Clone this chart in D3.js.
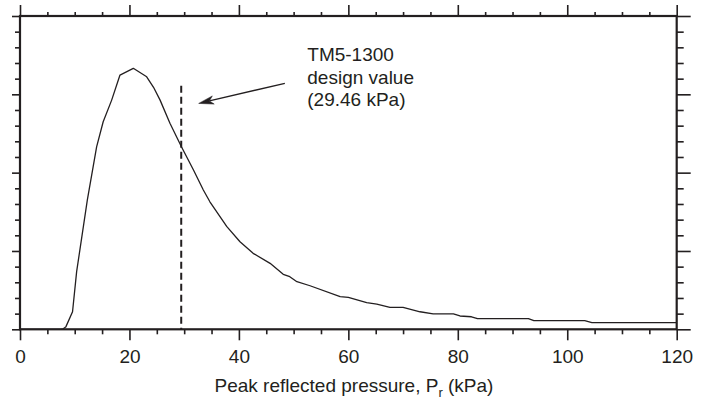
<!DOCTYPE html>
<html>
<head>
<meta charset="utf-8">
<script src="https://cdn.jsdelivr.net/npm/d3@7"></script>
<style>
  html, body { margin: 0; padding: 0; background: #fff; }
  svg { display: block; }
  text { font-family: "Liberation Sans", Arial, Helvetica, sans-serif; fill: #231f20; }
</style>
</head>
<body>
<svg id="chart" width="705" height="401"></svg>
<script>
// Peak reflected pressure (kPa)
const pressure = [0, 7.5, 7.9, 8.4, 9.6, 10.35, 12.3, 14.0, 15.2, 16.75, 18.27, 20.7, 23.15, 24.4, 25.6, 27.4, 29.5, 31.7, 33.5, 34.7, 37.8, 40.2, 42.6, 45.7, 48.1, 49.3, 50.6, 53.0, 58.5, 60.0, 63.35, 65.2, 67.6, 70.0, 73.1, 75.5, 79.2, 80.4, 82.5, 83.6, 92.9, 93.9, 103.2, 104.5, 120];
// Probability density (unlabelled axis)
const density = [0, 0, 0.00006, 0.00034, 0.00224, 0.00736, 0.0165, 0.0233, 0.0265, 0.02926, 0.03246, 0.03332, 0.03224, 0.0309, 0.02926, 0.0263, 0.0233, 0.02034, 0.01778, 0.01628, 0.0131, 0.01118, 0.0097, 0.00842, 0.00702, 0.00672, 0.00608, 0.00556, 0.00416, 0.00408, 0.0034, 0.00322, 0.0028, 0.0028, 0.00224, 0.00196, 0.00196, 0.0017, 0.0016, 0.00136, 0.00136, 0.0011, 0.0011, 0.00084, 0.00084];
const xMajorTicks = [0, 20, 40, 60, 80, 100, 120];
const xTickLabels = ["0", "20", "40", "60", "80", "100", "120"];
const designValue = 29.46;
const annotationLines = ["TM5-1300", "design value", "(29.46 kPa)"];

const svg = d3.select("#chart");
const m = { left: 20, top: 16, right: 28.3, bottom: 71.7 };
const W = 705 - m.left - m.right;
const H = 401 - m.top - m.bottom;
const g = svg.append("g").attr("transform", `translate(${m.left},${m.top})`);

const x = d3.scaleLinear().domain([0, 120]).range([0, W]);
const y = d3.scaleLinear().domain([0, 0.04]).range([H, 0]);

const ink = "#231f20";
const xMinor = d3.range(0, 121, 5).filter(v => v % 20 !== 0);
const yMinor = d3.range(0, 0.0401, 0.002).filter((v, i) => i % 5 !== 0);
const yMajor = d3.range(0, 0.0401, 0.01);

function styleAxis(sel) {
  sel.select(".domain").remove();
  sel.selectAll("line").attr("stroke", ink).attr("stroke-width", 1.6);
}

// bottom major + labels
g.append("g").attr("transform", `translate(0,${H})`)
  .call(d3.axisBottom(x).tickValues(xMajorTicks).tickSize(11).tickPadding(9)
    .tickFormat((d, i) => xTickLabels[i]))
  .call(styleAxis)
  .call(a => a.selectAll("text").attr("font-size", 19).attr("fill", ink));
g.append("g").attr("transform", `translate(0,${H})`)
  .call(d3.axisBottom(x).tickValues(xMinor).tickSize(5).tickFormat(""))
  .call(styleAxis);
// top
g.append("g").call(d3.axisTop(x).tickValues(xMajorTicks).tickSize(11).tickFormat("")).call(styleAxis);
g.append("g").call(d3.axisTop(x).tickValues(xMinor).tickSize(4).tickFormat("")).call(styleAxis);
// left
g.append("g").call(d3.axisLeft(y).tickValues(yMajor).tickSize(8).tickFormat("")).call(styleAxis);
g.append("g").call(d3.axisLeft(y).tickValues(yMinor).tickSize(5).tickFormat("")).call(styleAxis);
// right
g.append("g").attr("transform", `translate(${W},0)`)
  .call(d3.axisRight(y).tickValues(yMajor).tickSize(14).tickFormat("")).call(styleAxis);
g.append("g").attr("transform", `translate(${W},0)`)
  .call(d3.axisRight(y).tickValues(yMinor).tickSize(7).tickFormat("")).call(styleAxis);

// frame
g.append("rect").attr("x", 0).attr("y", 0).attr("width", W).attr("height", H)
  .attr("fill", "none").attr("stroke", ink).attr("stroke-width", 2.2);

// curve
const pts = pressure.map((p, i) => [p, density[i]]);
g.append("path").datum(pts)
  .attr("fill", "none").attr("stroke", ink).attr("stroke-width", 1.3)
  .attr("stroke-linejoin", "round")
  .attr("d", d3.line().x(d => x(d[0])).y(d => y(d[1])));

// design value dashed line
g.append("line")
  .attr("x1", x(designValue)).attr("x2", x(designValue))
  .attr("y1", y(0.0311)).attr("y2", y(0))
  .attr("stroke", ink).attr("stroke-width", 2).attr("stroke-dasharray", "7,4");

// arrow
const tail = [x(48.4), y(0.0314)];
const tip = [x(32.65), y(0.02884)];
const ang = Math.atan2(tail[1] - tip[1], tail[0] - tip[0]);
const L = 15, Wd = 4.2, notch = 11;
const ca = Math.cos(ang), sa = Math.sin(ang);
const p1 = [tip[0] + L * ca - Wd * sa, tip[1] + L * sa + Wd * ca];
const p2 = [tip[0] + notch * ca, tip[1] + notch * sa];
const p3 = [tip[0] + L * ca + Wd * sa, tip[1] + L * sa - Wd * ca];
g.append("line")
  .attr("x1", tail[0]).attr("y1", tail[1]).attr("x2", p2[0]).attr("y2", p2[1])
  .attr("stroke", ink).attr("stroke-width", 1.4);
g.append("path")
  .attr("d", `M${tip}L${p1}L${p2}L${p3}Z`)
  .attr("fill", ink).attr("stroke", ink).attr("stroke-width", 0.5);

// annotation text
const ann = g.append("text").attr("x", x(52.5)).attr("y", 44.7).attr("font-size", 19);
annotationLines.forEach((t, i) => {
  ann.append("tspan").attr("x", x(52.5)).attr("dy", i === 0 ? 0 : 22.8).text(t);
});

// x axis title
const title = svg.append("text").attr("x", 354).attr("y", 392)
  .attr("text-anchor", "middle").attr("font-size", 19);
title.append("tspan").text("Peak reflected pressure, P");
title.append("tspan").attr("font-size", 13).attr("dy", 5).text("r");
title.append("tspan").attr("dy", -5).text(" (kPa)");
</script>
</body>
</html>
